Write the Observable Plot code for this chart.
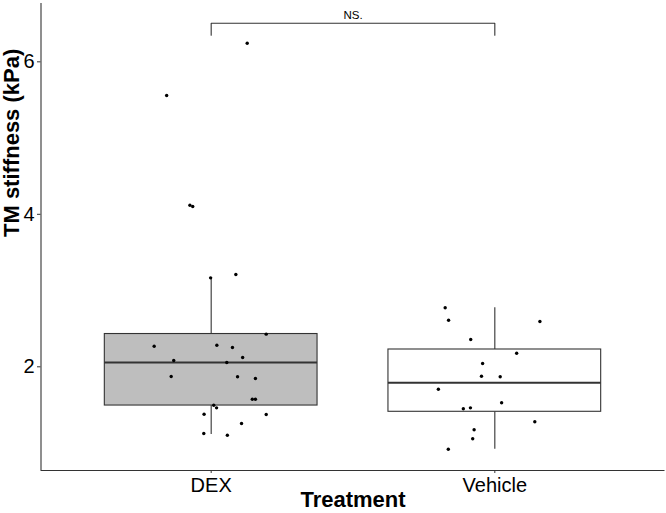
<!DOCTYPE html>
<html><head><meta charset="utf-8">
<script src="https://cdn.jsdelivr.net/npm/d3@7"></script>
<script src="https://cdn.jsdelivr.net/npm/@observablehq/plot@0.6"></script>
<style>html,body{margin:0;padding:0;background:#fff;overflow:hidden}</style>
</head><body><div id="chart"></div>
<script>
// ---- data ----
const categories = ["DEX", "Vehicle"];
const dexValues = [6.244, 5.558, 4.119, 4.102, 3.167, 3.210, 2.428, 2.270, 2.283, 2.253, 2.122, 2.083, 2.056,
  1.873, 1.869, 1.847, 1.575, 1.575, 1.496, 1.462, 1.378, 1.374, 1.256, 1.125, 1.103];
const dexJitter = [0.127, -0.157, -0.075, -0.065, -0.002, 0.087, 0.194, -0.201, 0.020, 0.075, 0.111, -0.132, 0.055,
  -0.141, 0.093, 0.156, 0.145, 0.156, 0.009, 0.019, -0.025, 0.194, 0.107, -0.026, 0.057];
const vehicleValues = [2.774, 2.611, 2.594, 2.358, 2.178, 2.043, 1.877, 1.869, 1.706, 1.528, 1.449, 1.462,
  1.279, 1.174, 1.056, 0.919];
const vehicleJitter = [-0.175, -0.163, 0.159, -0.085, 0.077, -0.043, -0.047, 0.019, -0.199, 0.024, -0.111, -0.086,
  0.141, -0.073, -0.078, -0.164];
const boxQ1 = [1.492, 1.410];
const boxMedian = [2.056, 1.790];
const boxQ3 = [2.430, 2.227];
const whiskerLow = [1.112, 0.919];
const whiskerHigh = [3.167, 2.774];
const yTicks = [2, 4, 6];
const yTickLabels = ["2", "4", "6"];
const bracketLevel = 6.506;
const bracketTip = 6.349;
const bracketLabel = "NS.";
const xLabel = "Treatment";
const yLabel = "TM stiffness (kPa)";

// ---- styles ----
const boxFills = ["#bebebe", "#ffffff"];
const ink = "#333333";
const xDomain = [0.4, 2.6];
const yDomain = [0.64, 6.765];
const halfWidth = 0.375;

const boxes = categories.map((c, i) => ({
  cat: c, pos: i + 1, q1: boxQ1[i], med: boxMedian[i], q3: boxQ3[i],
  lo: whiskerLow[i], hi: whiskerHigh[i], fill: boxFills[i]
}));
const points = [
  ...dexValues.map((v, i) => ({x: 1 + dexJitter[i], y: v})),
  ...vehicleValues.map((v, i) => ({x: 2 + vehicleJitter[i], y: v}))
];
const bracket = [
  {x: 1, y: bracketTip}, {x: 1, y: bracketLevel}, {x: 2, y: bracketLevel}, {x: 2, y: bracketTip}
];

const chart = Plot.plot({
  width: 666,
  height: 513,
  marginLeft: 40.5,
  marginRight: 1.5,
  marginTop: 3,
  marginBottom: 43,
  style: {fontFamily: "Arial, 'Liberation Sans', sans-serif", color: "black", background: "white"},
  x: {domain: xDomain},
  y: {domain: yDomain},
  color: {type: "identity"},
  marks: [
    Plot.ruleX(boxes, {x: "pos", y1: "q3", y2: "hi", stroke: ink, strokeWidth: 1.1}),
    Plot.ruleX(boxes, {x: "pos", y1: "lo", y2: "q1", stroke: ink, strokeWidth: 1.1}),
    Plot.rect(boxes, {x1: d => d.pos - halfWidth, x2: d => d.pos + halfWidth, y1: "q1", y2: "q3",
      fill: "fill", stroke: ink, strokeWidth: 1.1}),
    Plot.ruleY(boxes, {y: "med", x1: d => d.pos - halfWidth, x2: d => d.pos + halfWidth, stroke: ink, strokeWidth: 2}),
    Plot.dot(points, {x: "x", y: "y", r: 1.7, fill: "black", stroke: "none"}),
    Plot.line(bracket, {x: "x", y: "y", stroke: ink, strokeWidth: 1.1}),
    Plot.text([bracketLabel], {x: 1.5, y: bracketLevel, dy: -4, lineAnchor: "bottom", fontSize: 11.5, fill: "black"}),
    Plot.ruleX([xDomain[0]], {stroke: ink, strokeWidth: 1.1}),
    Plot.ruleY([yDomain[0]], {stroke: ink, strokeWidth: 1.1}),
    Plot.axisX({ticks: [1, 2], tickFormat: d => categories[d - 1], tickSize: 3, tickPadding: 4,
      fontSize: 20, label: null, stroke: ink}),
    Plot.axisY({ticks: yTicks, tickFormat: d => yTickLabels[yTicks.indexOf(d)], tickSize: 3.5, tickPadding: 3,
      fontSize: 20, label: null, stroke: ink}),
    Plot.text([xLabel], {frameAnchor: "bottom", dy: 36, lineAnchor: "bottom", fontSize: 22, fontWeight: "bold", fill: "black"}),
    Plot.text([yLabel], {frameAnchor: "left", dx: -29.5, rotate: -90, fontSize: 22, fontWeight: "bold", fill: "black"})
  ]
});
document.getElementById("chart").appendChild(chart);
</script>
</body></html>
